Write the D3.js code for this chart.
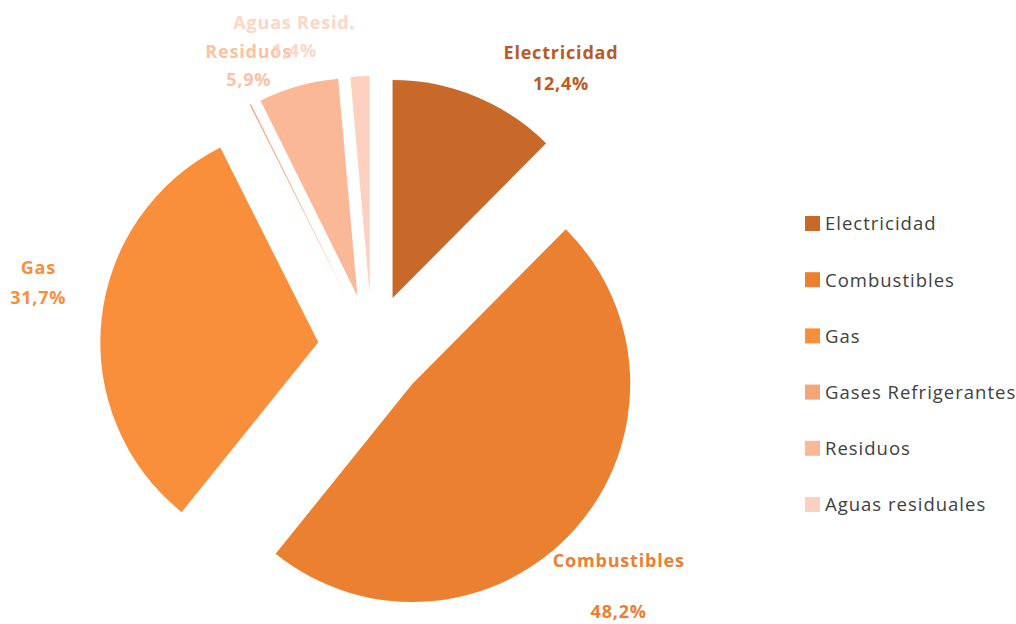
<!DOCTYPE html>
<html>
<head>
<meta charset="utf-8">
<script src="https://cdn.jsdelivr.net/npm/d3@7.9.0/dist/d3.min.js"></script>
<style>
  body { margin: 0; background: #fff; }
  svg { display: block; font-family: "Open Sans", Lato, sans-serif; }
</style>
</head>
<body>
<svg id="chart" width="1016" height="624"></svg>
<script>
// ========== Data ==========
const categories = ['Electricidad', 'Combustibles', 'Gas', 'Gases Refrigerantes', 'Residuos', 'Aguas residuales'];
const values = [12.4, 48.2, 31.7, 0.1, 5.9, 1.4];
const labelNames = ['Electricidad', 'Combustibles', 'Gas', '', 'Residuos', 'Aguas Resid.'];
const labelTexts = ['12,4%', '48,2%', '31,7%', '', '5,9%', '1,4%'];
const colors = ['#c8692a', '#eb8030', '#f98f3a', '#f6a577', '#fbb896', '#fdd0c0'];
const labelColors = ['#b95a24', '#eb8030', '#f98f3a', '#f6a577', '#fbc2a4', '#fdd6c6'];

// ========== Layout ==========
const cx = 372, cy = 348, radius = 218, explode = 54;

const svg = d3.select('#chart');
const g = svg.append('g').attr('transform', `translate(${cx},${cy})`);

const pie = d3.pie().sort(null).value((d) => d);
const arcGen = d3.arc().innerRadius(0).outerRadius(radius);
const arcData = pie(values);

// === Slices (each pulled out along its bisector) ===
arcData.forEach((d, i) => {
  const mid = (d.startAngle + d.endAngle) / 2;
  g.append('path')
    .attr('d', arcGen(d))
    .attr('fill', colors[i])
    .attr('transform', `translate(${explode * Math.sin(mid)},${-explode * Math.cos(mid)})`);
});

// === Data labels: angle (deg), distance from centre, gap between the two lines ===
const labelPos = [
  { a: 34, r: 338, gap: 31 },
  { a: 134, r: 343, gap: 51 },
  { a: 281, r: 340, gap: 30 },
  null,
  { a: 336.4, r: 308, gap: 28 },
  { a: 346, r: 321, gap: 28 },
];

arcData.forEach((d, i) => {
  const p = labelPos[i];
  if (!p) return;
  const rad = (p.a * Math.PI) / 180;
  const x = p.r * Math.sin(rad);
  const y = -p.r * Math.cos(rad);
  const t = g.append('text')
    .attr('x', x)
    .attr('y', y - p.gap / 2)
    .attr('text-anchor', 'middle')
    .attr('fill', labelColors[i])
    .attr('font-weight', 'bold')
    .attr('font-size', 18)
    .attr('letter-spacing', 0.8);
  t.append('tspan').attr('x', x).attr('dy', '0.35em').text(labelNames[i]);
  t.append('tspan').attr('x', x).attr('dy', p.gap).text(labelTexts[i]);
});

// === Legend ===
const legend = svg.append('g').attr('transform', 'translate(805,224)');
const rowScale = d3.scalePoint().domain(categories).range([0, 281]);

categories.forEach((c, i) => {
  const row = legend.append('g').attr('transform', `translate(0,${rowScale(c)})`);
  row.append('rect')
    .attr('x', 0).attr('y', -8)
    .attr('width', 15).attr('height', 15)
    .attr('fill', colors[i]);
  row.append('text')
    .attr('x', 20).attr('y', 0)
    .attr('dy', '0.35em')
    .attr('font-size', 18.5)
    .attr('letter-spacing', 1)
    .attr('fill', '#404040')
    .text(c);
});
</script>
</body>
</html>
